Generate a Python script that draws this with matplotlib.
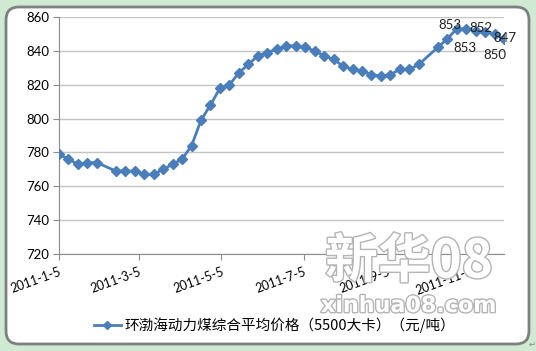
import pandas as pd
import matplotlib
matplotlib.use('Agg')
import matplotlib.pyplot as plt
import matplotlib.patches as mpatches
import matplotlib.patheffects as pe

plt.rcParams['font.family'] = ['Lato', 'Noto Sans CJK SC', 'DejaVu Sans']

# weekly price, 2011 (no quote on 2011-2-9 and 2011-10-5)
dates = ['2011-01-05', '2011-01-12', '2011-01-19', '2011-01-26', '2011-02-02',
         '2011-02-16', '2011-02-23', '2011-03-02', '2011-03-09', '2011-03-16',
         '2011-03-23', '2011-03-30', '2011-04-06', '2011-04-13', '2011-04-20',
         '2011-04-27', '2011-05-04', '2011-05-11', '2011-05-18', '2011-05-25',
         '2011-06-01', '2011-06-08', '2011-06-15', '2011-06-22', '2011-06-29',
         '2011-07-06', '2011-07-13', '2011-07-20', '2011-07-27', '2011-08-03',
         '2011-08-10', '2011-08-17', '2011-08-24', '2011-08-31', '2011-09-07',
         '2011-09-14', '2011-09-21', '2011-09-28', '2011-10-12', '2011-10-19',
         '2011-10-26', '2011-11-02', '2011-11-09', '2011-11-16', '2011-11-23',
         '2011-11-30']
price = [779, 776, 773, 774, 774,
         769, 769, 769, 767, 767,
         770, 773, 776, 784, 799,
         808, 818, 820, 827, 832,
         837, 839, 841, 843, 843,
         842, 840, 837, 835, 831,
         829, 828, 826, 825, 826,
         829, 829, 832, 842, 847,
         853, 853, 852, 851, 850,
         847]
tick_dates = ['2011-01-05', '2011-03-05', '2011-05-05', '2011-07-05', '2011-09-05', '2011-11-05']
tick_labels = ['2011-1-5', '2011-3-5', '2011-5-5', '2011-7-5', '2011-9-5', '2011-11-5']
y_ticks = [720, 740, 760, 780, 800, 820, 840, 860]
series_name = '环渤海动力煤综合平均价格（5500大卡）（元/吨）'

# labelled points: index, text offset in pixels
labels = [(40, (-7, 4)), (41, (-1, -19)), (42, (5, 3)), (44, (0, -21)), (45, (1, 1))]

x = pd.to_datetime(dates)
blue = '#4a7ebb'

fig = plt.figure(figsize=(5.36, 3.51), dpi=100, facecolor='#d0e9d2')

# rounded white chart panel
panel = mpatches.FancyBboxPatch((6, 7), 523, 337, boxstyle='round,pad=0,rounding_size=13',
                                facecolor='white', edgecolor='#7f7f7f', linewidth=2,
                                transform=None, zorder=0)
fig.add_artist(panel)
fig.text(529 / 536, 4 / 351, '↵', fontsize=6, color='#888888', family='DejaVu Sans')

ax = fig.add_axes([59 / 536, (351 - 254) / 351, 445 / 536, 237 / 351])
ax.set_facecolor('none')
ax.plot(x, price, color=blue, linewidth=2, marker='D', markersize=5.5, zorder=3)

for i, off in labels:
    ax.annotate(str(price[i]), (x[i], price[i]), xytext=off, textcoords='offset pixels',
                ha='center', va='center', fontsize=9.5, color='#222222', zorder=4)

ax.set_ylim(720, 860)
ax.set_yticks(y_ticks)
ax.set_xlim(x[0], x[-1])
ax.set_xticks(pd.to_datetime(tick_dates))
ax.set_xticklabels(tick_labels, rotation=20, ha='right', rotation_mode='anchor')
ax.grid(axis='y', color='#c4c4c4', linewidth=1)
ax.set_axisbelow(True)
for s in ['top', 'right']:
    ax.spines[s].set_visible(False)
for s in ['left', 'bottom']:
    ax.spines[s].set_color('#8c8c8c')
ax.tick_params(axis='x', direction='out', length=4, color='#8c8c8c', labelsize=9, pad=4)
ax.tick_params(axis='y', direction='out', length=4, color='#8c8c8c', labelsize=9.5, pad=3)

leg = ax.legend([ax.lines[0]], [series_name], loc='center',
                bbox_to_anchor=(275 / 536, 1 - 325 / 351),
                bbox_transform=fig.transFigure, frameon=False, handlelength=1.8,
                handletextpad=0.3, prop={'family': ['Noto Sans CJK SC'], 'size': 10.5})
leg.get_lines()[0].set_markersize(4.5)

# watermark
stroke = [pe.withStroke(linewidth=2, foreground='#b4b4b4')]
fig.text(409 / 536, 1 - 262 / 351, '新华08', fontsize=38, fontweight='bold', color='white',
         family=['Noto Sans CJK SC'], ha='center', va='center', path_effects=stroke, zorder=10)
fig.text(409 / 536, 1 - 306 / 351, 'xinhua08.com', fontsize=16, fontweight='bold', color='white',
         family=['DejaVu Sans'], ha='center', va='center', path_effects=stroke, zorder=10)

fig.savefig('out.png', dpi=100, facecolor=fig.get_facecolor())
